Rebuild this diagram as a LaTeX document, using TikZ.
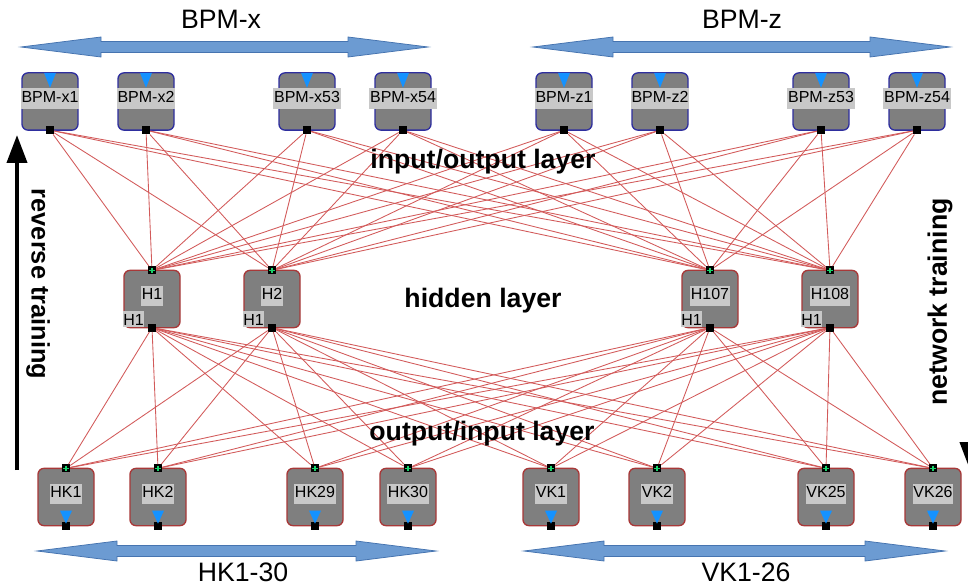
\documentclass[tikz,border=0pt]{standalone}
\usepackage{fontspec}
\setmainfont{Liberation Sans}
\usetikzlibrary{positioning,arrows.meta}

\definecolor{boxgray}{HTML}{7F7F7F}
\definecolor{lblgray}{HTML}{C8C8C8}
\definecolor{bpmblue}{HTML}{2E2E9E}
\definecolor{hidred}{HTML}{A83838}
\definecolor{wirered}{HTML}{D25A5A}
\definecolor{triblue}{HTML}{1592FF}
\definecolor{portgreen}{HTML}{19D36B}
\definecolor{arrowfill}{HTML}{6C9BD2}
\definecolor{arrowline}{HTML}{4674B0}

\newcommand{\lbl}[1]{\makebox[0pt]{\raisebox{2.25pt}[\height][\depth]{\fboxsep=0.5pt\colorbox{lblgray}{\strut #1}}}}
\newcommand{\dblArrow}[3]{% y, left tip, right tip
  \filldraw[bigarrow] (#2,#1) -- (#2+80,#1-10) -- (#2+80,#1-5.5) -- (#3-80,#1-5.5) -- (#3-80,#1-10)
    -- (#3,#1) -- (#3-80,#1+10) -- (#3-80,#1+5.5) -- (#2+80,#1+5.5) -- (#2+80,#1+10) -- cycle;}

\begin{document}
\begin{tikzpicture}[x=0.75pt, y=-0.75pt,
    font=\fontsize{12}{14.4}\selectfont,
    bpmbox/.style={draw=bpmblue, fill=boxgray, line width=1pt, rounded corners=4.5pt,
        minimum width=42pt, minimum height=43pt, inner sep=0pt, outer sep=0pt},
    hidbox/.style={bpmbox, draw=hidred},
    kickbox/.style={bpmbox, draw=hidred},
    outport/.style={fill=black, minimum size=6pt, inner sep=0pt},
    inport/.style={outport, path picture={
        \draw[portgreen, line width=1pt]
            ([yshift=-1pt]path picture bounding box.north) -- ([yshift=1pt]path picture bounding box.south)
            ([xshift=1pt]path picture bounding box.west) -- ([xshift=-1pt]path picture bounding box.east);}},
    hlabel/.style={fill=lblgray, anchor=south west, inner xsep=0.3pt, inner ysep=1.7pt,
        text height=8.6pt, text depth=0pt},
    wire/.style={wirered, line width=0.65pt},
    bigarrow/.style={fill=arrowfill, draw=arrowline, line width=0.6pt},
    title/.style={font=\fontsize{20}{24}\selectfont},
    layer/.style={font=\fontsize{20}{24}\selectfont\bfseries}]
\useasboundingbox (0,0) rectangle (968,588);

\node[bpmbox] (bpmx1) at (50,101.5) {\lbl{BPM-x1}};
\node[bpmbox, right=30pt of bpmx1] (bpmx2) {\lbl{BPM-x2}};
\node[bpmbox, right=78.75pt of bpmx2] (bpmx53) {\lbl{BPM-x53}};
\node[bpmbox, right=30pt of bpmx53] (bpmx54) {\lbl{BPM-x54}};
\node[bpmbox, right=78.75pt of bpmx54] (bpmz1) {\lbl{BPM-z1}};
\node[bpmbox, right=30pt of bpmz1] (bpmz2) {\lbl{BPM-z2}};
\node[bpmbox, right=78.75pt of bpmz2] (bpmz53) {\lbl{BPM-z53}};
\node[bpmbox, right=30pt of bpmz53] (bpmz54) {\lbl{BPM-z54}};

\node[hidbox] (h1) at (152,299) {\lbl{H1}};
\node[hidbox, right=48pt of h1] (h2) {\lbl{H2}};
\node[hidbox, right=286.5pt of h2] (h107) {\lbl{H107}};
\node[hidbox, right=48pt of h107] (h108) {\lbl{H108}};

\node[kickbox] (hk1) at (66,497) {\lbl{HK1}};
\node[kickbox, right=27pt of hk1] (hk2) {\lbl{HK2}};
\node[kickbox, right=75.75pt of hk2] (hk29) {\lbl{HK29}};
\node[kickbox, right=27.75pt of hk29] (hk30) {\lbl{HK30}};
\node[kickbox, right=65.25pt of hk30] (vk1) {\lbl{VK1}};
\node[kickbox, right=37.5pt of vk1] (vk2) {\lbl{VK2}};
\node[kickbox, right=84.75pt of vk2] (vk25) {\lbl{VK25}};
\node[kickbox, right=38.25pt of vk25] (vk26) {\lbl{VK26}};

\foreach \n in {bpmx1,bpmx2,bpmx53,bpmx54,bpmz1,bpmz2,bpmz53,bpmz54} {
    \node[outport] (\n-out) at (\n.south) {};
    \fill[triblue] (\n.north) ++(-6,0) -- ++(12,0) -- ++(-6,15) -- cycle;
}
\foreach \n in {h1,h2,h107,h108} {
    \node[inport] (\n-in) at (\n.north) {};
    \node[outport] (\n-out) at (\n.south) {};
    \node[hlabel, xshift=-1pt] (\n-tag) at (\n.south west) {H1};
}
\foreach \n in {hk1,hk2,hk29,hk30,vk1,vk2,vk25,vk26} {
    \node[inport] (\n-in) at (\n.north) {};
    \node[outport] (\n-out) at (\n.south) {};
    \fill[triblue] (\n.south) ++(-6,-15) -- ++(12,0) -- ++(-6,13) -- cycle;
}

\foreach \a in {bpmx1,bpmx2,bpmx53,bpmx54,bpmz1,bpmz2,bpmz53,bpmz54}
    \foreach \b in {h1,h2,h107,h108}
        \draw[wire] (\a-out) -- (\b-in);
\foreach \a in {h1,h2,h107,h108}
    \foreach \b in {hk1,hk2,hk29,hk30,vk1,vk2,vk25,vk26}
        \draw[wire] (\a-out) -- (\b-in);

\node[layer] (ioLayer) at (483,162) {input/output layer};
\node[layer] (hidLayer) at (483,301) {hidden layer};
\node[layer] (oiLayer) at (482,434) {output/input layer};

\dblArrow{47}{21}{428}
\dblArrow{47}{533}{950}
\dblArrow{551}{37}{436}
\dblArrow{551}{524}{945}
\node[title] (bpmxTitle) at (221,19) {BPM-x};
\node[title] (bpmzTitle) at (742,19) {BPM-z};
\node[title] (hkTitle) at (243,572) {HK1-30};
\node[title] (vkTitle) at (746,572) {VK1-26};

\coordinate (revStart) at (17,470);
\coordinate (revEnd) at (17,135);
\draw[line width=3pt, -{Triangle[width=15pt,length=21pt]}] (revStart) -- (revEnd);
\node[layer, font=\fontsize{19}{23}\selectfont\bfseries, rotate=-90] (revText) at (38,284) {reverse training};
\coordinate (netStart) at (970,132);
\coordinate (netEnd) at (970,470);
\draw[line width=3pt, -{Triangle[width=15pt,length=21pt]}] (netStart) -- (netEnd);
\node[layer, rotate=90] (netText) at (940,302) {network training};
\end{tikzpicture}
\end{document}
